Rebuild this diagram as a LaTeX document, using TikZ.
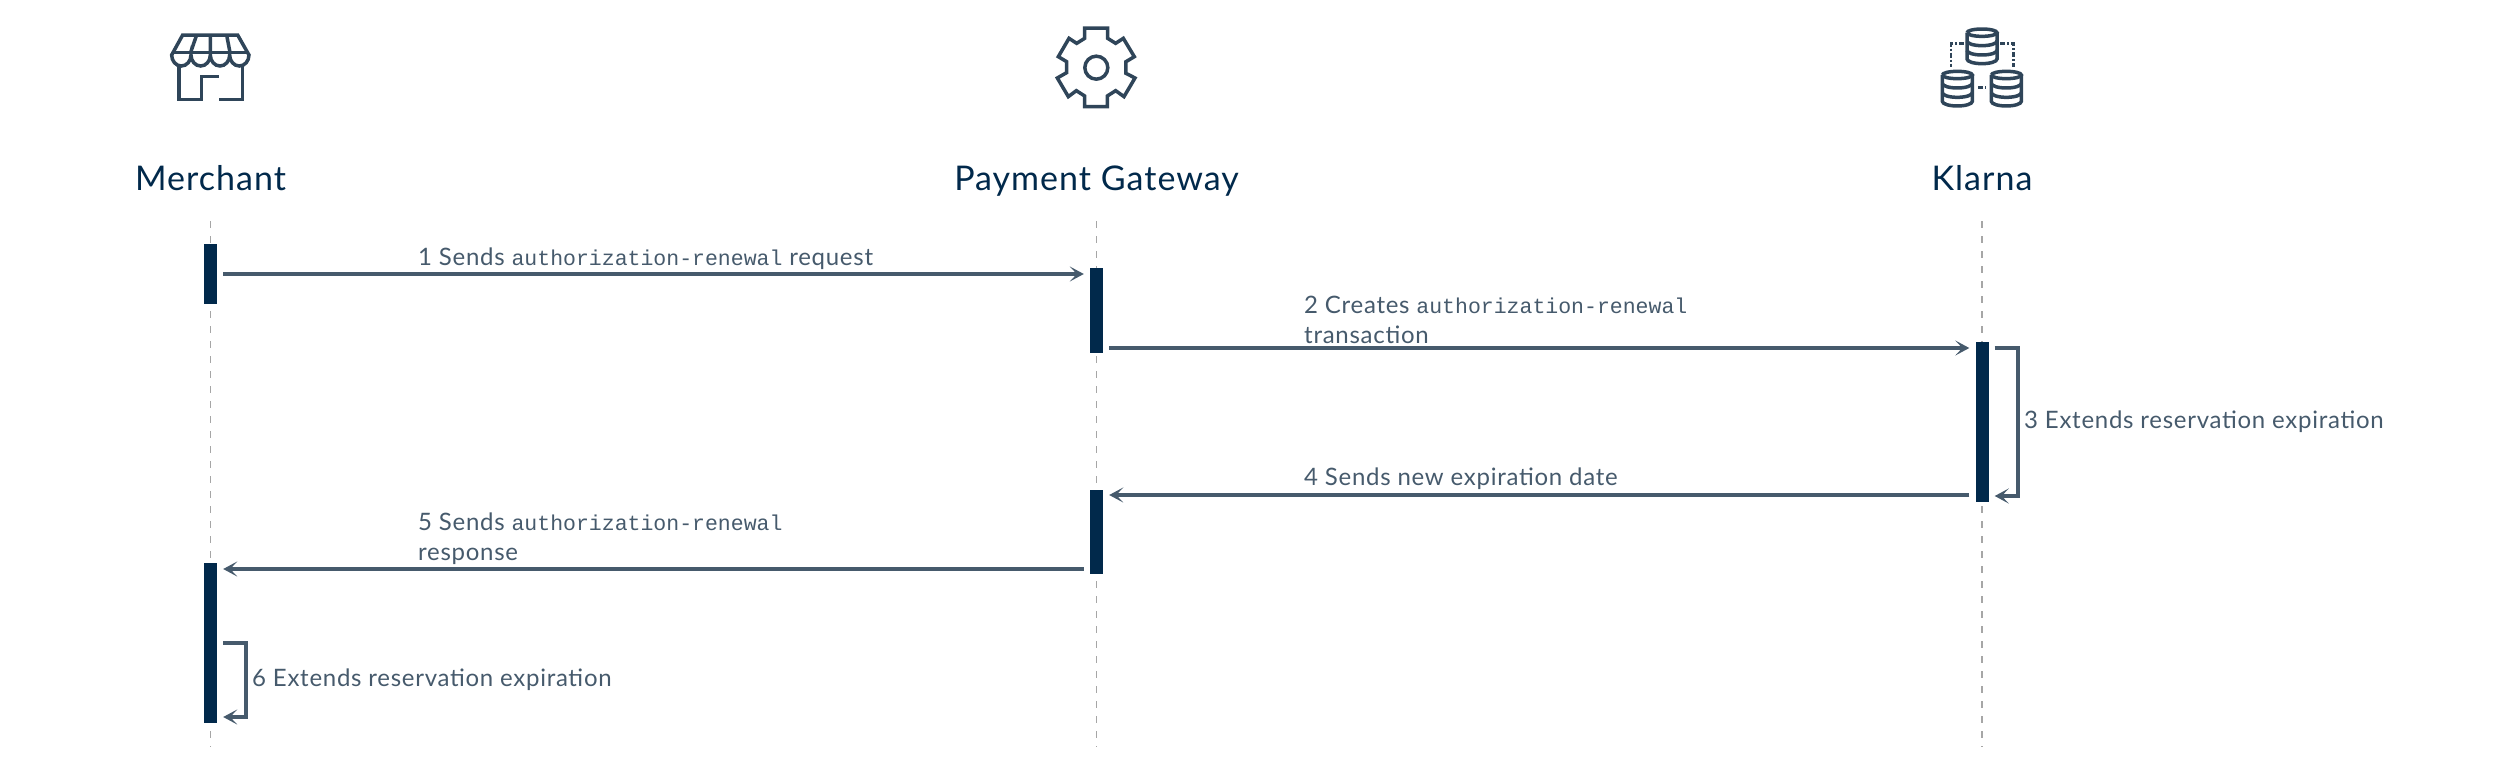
\documentclass[tikz,border=0pt]{standalone}
\usepackage{fontspec}
\setmainfont{Lato}
\newfontfamily\titlefont[LetterSpace=3]{Lato}
\newfontfamily\msgfont[LetterSpace=3]{Lato}
\newfontfamily\codefont{Liberation Mono}
\usepackage{xcolor}
\usetikzlibrary{arrows.meta}

\definecolor{navy}{HTML}{01294B}
\definecolor{slate}{HTML}{465A6C}
\definecolor{icon}{HTML}{2F4559}

\tikzset{
    lifeline/.style={gray!70, line width=1.2pt, dash pattern=on 7pt off 8pt},
    bar/.style={fill=navy, inner sep=0pt, minimum width=13pt},
    msg/.style={-{Stealth[length=14pt, width=15pt, inset=7pt]}, slate, line width=4pt,
        shorten <=6pt, shorten >=6pt},
    msglabel/.style={anchor=base west, inner sep=0pt, text=slate, align=left,
        font=\fontsize{24pt}{30pt}\selectfont\msgfont},
    actor/.style={anchor=base, inner sep=0pt, text=navy,
        font=\fontsize{34pt}{40pt}\selectfont\titlefont},
    iconline/.style={icon, line width=3.5pt, line join=miter},
    dotline/.style={line width=2.4pt, dash pattern=on 5pt off 2pt on 2pt off 2pt},
}
\newcommand{\code}[1]{{\fontsize{21.5pt}{30pt}\selectfont\codefont #1}}

\begin{document}
\begin{tikzpicture}[x=1pt, y=-1pt]
    \useasboundingbox (0,0) rectangle (2520,772);

    \node[actor] (merchant) at (210.5,190) {Merchant};
    \node[actor] (gateway) at (1096.5,190) {Payment Gateway};
    \node[actor] (klarna) at (1982,190) {Klarna};

    \coordinate (mend) at (210.5,747);
    \coordinate (gend) at (1096.5,747);
    \coordinate (kend) at (1982,747);
    \draw[lifeline] (merchant |- 0,221) -- (mend);
    \draw[lifeline] (gateway |- 0,221) -- (gend);
    \draw[lifeline] (klarna |- 0,221) -- (kend);

    \node[bar, minimum height=60pt] (m1) at (210.5,274) {};
    \node[bar, minimum height=85pt] (g1) at (1096.5,310.5) {};
    \node[bar, minimum height=160pt] (k1) at (1982,422) {};
    \node[bar, minimum height=84pt] (g2) at (1096.5,532) {};
    \node[bar, minimum height=160pt] (m2) at (210.5,643) {};

    \coordinate (row2) at (1500,348);
    \coordinate (row4) at (1500,495);
    \coordinate (row5) at (600,569);
    \draw[msg] (m1.east) -- (m1.east -| g1.west);
    \draw[msg] (row2 -| g1.east) -- (row2 -| k1.west);
    \draw[msg] (row4 -| k1.west) -- (row4 -| g2.east);
    \draw[msg] (row5 -| g2.west) -- (row5 -| m2.east);

    \coordinate (k3a) at (2018,348);
    \coordinate (k3b) at (2018,496);
    \draw[msg] (k3a -| k1.east) -- (k3a) -- (k3b) -- (k3b -| k1.east);
    \coordinate (m6a) at (246,643);
    \coordinate (m6b) at (246,717);
    \draw[msg] (m6a -| m2.east) -- (m6a) -- (m6b) -- (m6b -| m2.east);

    \node[msglabel] (t1) at (418,265) {1 Sends \code{authorization-renewal} request};
    \node[msglabel] (t2) at (1304,343) {2 Creates \code{authorization-renewal}\\transaction};
    \node[msglabel] (t3) at (2024,428) {3 Extends reservation expiration};
    \node[msglabel] (t4) at (1304,485) {4 Sends new expiration date};
    \node[msglabel] (t5) at (418,560) {5 Sends \code{authorization-renewal}\\response};
    \node[msglabel] (t6) at (252,686) {6 Extends reservation expiration};

    % store
    \begin{scope}[shift={(100,0)}, x=0.3333pt, y=-0.3333pt, iconline]
        \draw (248,105) -- (413,105) -- (447,165) arc (0:180:29 and 33) arc (0:180:29 and 33)
            arc (0:180:29 and 33) arc (0:180:29 and 33) -- cycle;
        \draw (219,157) -- (443,157);
        \draw (290,105) -- (272,157) (331,105) -- (331,157) (380,105) -- (390,157);
        \draw (237,198) -- (237,298) -- (305,298) -- (305,230) -- (358,230);
        \draw (358,298) -- (427,298) -- (427,198);
    \end{scope}

    % gear
    \begin{scope}[shift={(1000,0)}, x=0.3333pt, y=-0.3333pt, iconline]
        \draw (254,84) -- (323,84) -- (323,115) -- (347,130) -- (370,115) -- (403,170) -- (378,185)
            -- (378,220) -- (405,234) -- (372,290) -- (347,272) -- (322,288) -- (322,320) -- (254,320)
            -- (254,288) -- (229,272) -- (205,290) -- (172,234) -- (200,218) -- (200,185) -- (175,170)
            -- (207,115) -- (230,130) -- (254,115) -- cycle;
        \draw (289,203) circle [radius=11.5pt];
    \end{scope}

    % databases
    \begin{scope}[shift={(1900,0)}, x=0.3333pt, y=-0.3333pt, iconline]
        \foreach \cx/\cy in {246/85, 172/212, 319/212} {
            \draw (\cx-45,\cy+13) arc (180:-180:45 and 11);
            \draw (\cx-45,\cy+13) -- (\cx-45,\cy+92) arc (180:0:45 and 14) -- (\cx+45,\cy+13);
            \draw (\cx-45,\cy+38) arc (180:0:45 and 14);
            \draw (\cx-45,\cy+66) arc (180:0:45 and 14);
        }
        \draw[dotline] (192,131) -- (153,131) -- (153,200);
        \draw[dotline] (300,131) -- (340,131) -- (340,200);
        \draw[dotline] (235,262) -- (258,262);
    \end{scope}
\end{tikzpicture}
\end{document}
